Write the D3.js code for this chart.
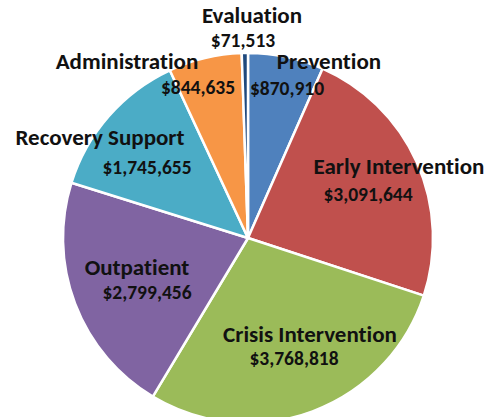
<!DOCTYPE html>
<html>
<head>
<meta charset="utf-8">
<script src="https://cdn.jsdelivr.net/npm/d3@7"></script>
<style>
  body { margin: 0; background: #fff; }
  svg { display: block; }
  .lbl { font-family: Calibri, Carlito, Lato, "Open Sans", sans-serif; font-weight: bold; fill: #111;
         font-variant-ligatures: none; }
</style>
</head>
<body>
<div id="chart"></div>
<script>
// budget categories, clockwise from 12 o'clock
var categories = ["Prevention", "Early Intervention", "Crisis Intervention", "Outpatient",
                  "Recovery Support", "Administration", "Evaluation"];
var amounts = [870910, 3091644, 3768818, 2799456, 1745655, 844635, 71513];
var sliceColors = ["#4F81BD", "#C0504D", "#9BBB59", "#8064A2", "#4BACC6", "#F79646", "#1F497D"];

// hand placed label spots (the original labels were dragged around by hand)
// [name x, name baseline, value x, value baseline]
var labelSpots = [
    [329, 69, 287, 95],
    [399, 174, 368, 201],
    [310, 342, 294, 365],
    [137, 275, 147, 299],
    [100, 145, 147, 174],
    [127, 69, 198, 94],
    [252, 23, 243, 47]
];

var width = 497, height = 417,
    cx = 248, cy = 238, radius = 185;

var svg = d3.select("#chart").append("svg")
    .attr("width", width)
    .attr("height", height);

var g = svg.append("g")
    .attr("transform", "translate(" + cx + "," + cy + ")");

var pie = d3.pie().sort(null).value(d => d);
var arc = d3.arc().innerRadius(0).outerRadius(radius);

var arcs = pie(amounts);

// slices
g.selectAll("path.slice")
    .data(arcs)
    .enter().append("path")
    .attr("class", "slice")
    .attr("d", arc)
    .style("fill", (d, i) => sliceColors[i])
    .style("stroke", "#fff")
    .style("stroke-width", 2.5)
    .style("stroke-linejoin", "round");

var fmt = d3.format("$,");

// labels: name on one line, amount under it
var labels = svg.selectAll("g.label")
    .data(categories)
    .enter().append("g")
    .attr("class", "label");

labels.append("text")
    .attr("class", "lbl")
    .attr("text-anchor", "middle")
    .attr("x", (d, i) => labelSpots[i][0])
    .attr("y", (d, i) => labelSpots[i][1])
    .style("font-size", "23px")
    .text(d => d);

labels.append("text")
    .attr("class", "lbl")
    .attr("text-anchor", "middle")
    .attr("x", (d, i) => labelSpots[i][2])
    .attr("y", (d, i) => labelSpots[i][3])
    .style("font-size", "19.5px")
    .text((d, i) => fmt(amounts[i]));
</script>
</body>
</html>
